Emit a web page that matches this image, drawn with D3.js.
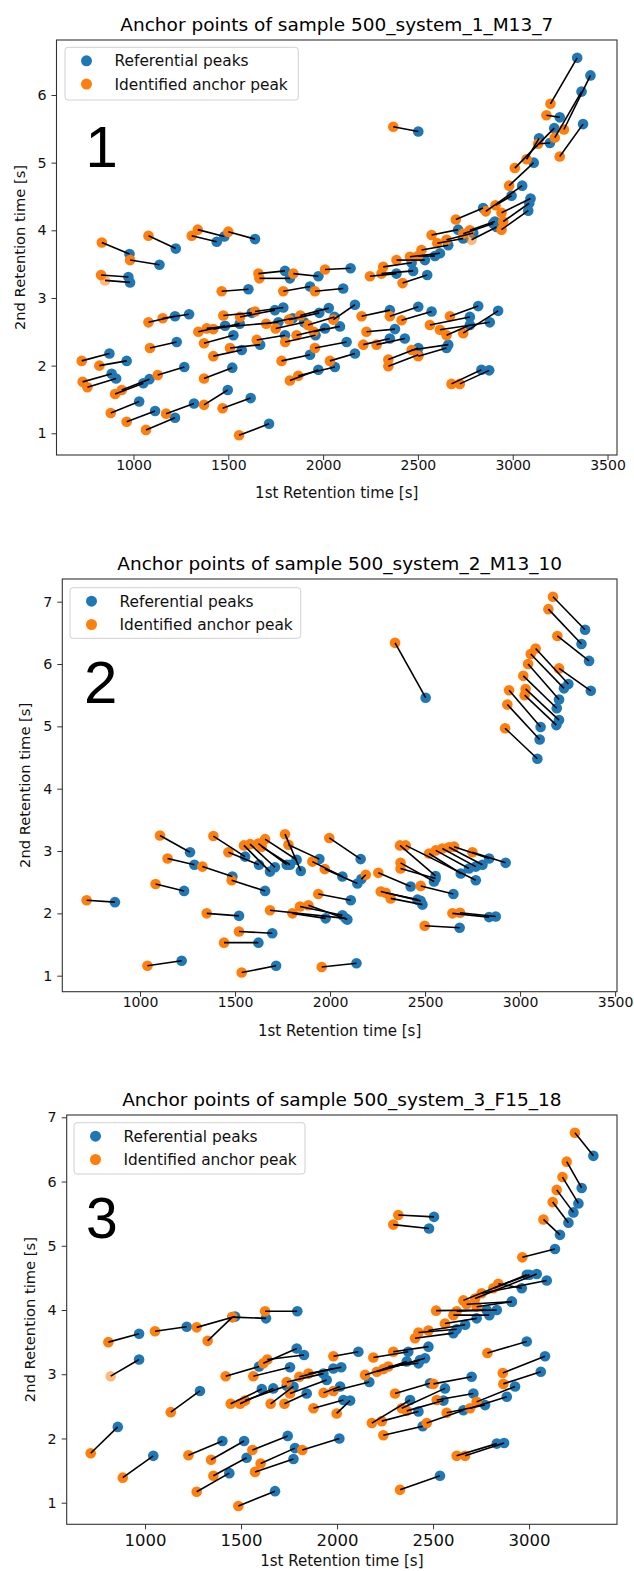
<!DOCTYPE html>
<html>
<head>
<meta charset="utf-8">
<script src="https://cdn.jsdelivr.net/npm/d3@7/dist/d3.min.js"></script>
<style>
  body { margin: 0; background: #fff; }
  svg { display: block; }
</style>
</head>
<body>
<script>
const W = 634, H = 1571;
const blue = "#1f77b4", orange = "#ff7f0e";

const titles = [
  "Anchor points of sample 500_system_1_M13_7",
  "Anchor points of sample 500_system_2_M13_10",
  "Anchor points of sample 500_system_3_F15_18"
];
const tags = ["1", "2", "3"];
const legendLabels = ["Referential peaks", "Identified anchor peak"];
const xLabel = "1st Retention time [s]";
const yLabel = "2nd Retention time [s]";

const xTicks1 = [1000, 1500, 2000, 2500, 3000, 3500];
const xTicks2 = [1000, 1500, 2000, 2500, 3000, 3500];
const xTicks3 = [1000, 1500, 2000, 2500, 3000];
const yTicks1 = [1, 2, 3, 4, 5, 6];
const yTicks2 = [1, 2, 3, 4, 5, 6, 7];
const yTicks3 = [1, 2, 3, 4, 5, 6, 7];

// identified anchor peaks (orange) and the referential peak each one is matched to (blue)
const anchors1 = [[833,3.82],[982,3.56],[1079,3.92],[1339,4.01],[1307,3.92],[1500,3.98],[829,3.34],[850,3.26],
  [1659,3.36],[1664,3.29],[1843,3.36],[2010,3.42],[1465,3.10],[1790,3.10],[1957,3.10],[1079,2.64],[1154,2.70],
  [1474,2.74],[1562,2.72],[1641,2.80],[1342,2.50],[1386,2.55],[1421,2.54],[1087,2.26],[1372,2.33],[1421,2.14],
  [1509,2.26],[1650,2.38],[1781,2.07],[727,2.07],[820,2.00],[732,1.76],[757,1.68],[903,1.58],[938,1.64],
  [1128,1.86],[1372,1.81],[1825,1.78],[1869,1.85],[880,1.30],[964,1.17],[1172,1.29],[1372,1.42],[1470,1.37],
  [1066,1.05],[1557,0.97],[1700,2.62],[1750,2.55],[1820,2.68],[1880,2.74],[1800,2.35],[1920,2.60],[1860,2.45],
  [3199,5.87],[3270,5.49],[3222,5.37],[3178,5.70],[3248,5.09],[3011,4.92],[3073,5.05],[3134,5.28],[2981,4.66],
  [2858,4.28],[2909,4.37],[2941,4.26],[2950,4.13],[2941,4.01],[2700,4.16],[2572,3.93],[2739,3.95],[2783,3.86],
  [2774,4.00],[2602,3.81],[2651,3.86],[2247,3.32],[2308,3.36],[2317,3.46],[2387,3.56],[2458,3.61],[2519,3.71],
  [2419,3.22],[2500,3.62],[2203,2.73],[2352,2.73],[2414,2.67],[2229,2.50],[2212,2.31],[2282,2.31],[2054,2.68],
  [2563,2.60],[2669,2.73],[2616,2.53],[2739,2.48],[2651,2.45],[2467,2.23],[2502,2.14],[2344,2.09],[2344,1.99],
  [2677,1.73],[2721,1.73],[2036,2.07],[1957,2.26],[1950,2.50],[2370,5.53]];
const refs1 = [[979,3.65],[1137,3.49],[1223,3.73],[1479,3.91],[1439,3.83],[1641,3.87],[973,3.31],[982,3.23],
  [1799,3.40],[1825,3.29],[1975,3.32],[2145,3.44],[1606,3.13],[1931,3.17],[2106,3.14],[1219,2.73],[1293,2.76],
  [1624,2.78],[1746,2.82],[1790,2.86],[1483,2.59],[1764,2.64],[1560,2.62],[1228,2.35],[1527,2.45],[1571,2.23],
  [1668,2.31],[1799,2.45],[1931,2.16],[873,2.18],[964,2.07],[885,1.88],[908,1.81],[1052,1.74],[1084,1.80],
  [1268,1.98],[1521,1.97],[1975,1.94],[2062,1.98],[1030,1.47],[1114,1.33],[1319,1.44],[1497,1.64],[1618,1.52],
  [1219,1.23],[1715,1.14],[1840,2.70],[1900,2.64],[1980,2.78],[2030,2.85],[1960,2.45],[2060,2.72],[2010,2.55],
  [3340,6.55],[3410,6.29],[3363,6.05],[3248,5.67],[3371,5.57],[3219,5.51],[3139,5.36],[3196,5.29],[3111,5.00],
  [3050,4.66],[2994,4.51],[3094,4.47],[3087,4.40],[3082,4.29],[2844,4.33],[2712,4.01],[2897,4.10],[2915,4.05],
  [2906,4.13],[2739,3.88],[2792,3.96],[2387,3.36],[2475,3.40],[2467,3.52],[2537,3.56],[2616,3.66],[2660,3.78],
  [2549,3.34],[2590,3.62],[2352,2.82],[2502,2.87],[2572,2.80],[2379,2.54],[2352,2.40],[2431,2.40],[2168,2.90],
  [2774,2.72],[2818,2.88],[2879,2.64],[2923,2.81],[2774,2.60],[2660,2.31],[2651,2.26],[2502,2.26],[2502,2.16],
  [2835,1.94],[2876,1.93],[2168,2.18],[2124,2.35],[2089,2.58],[2502,5.46]];
const faded1 = [7, 70];

const anchors2 = [[719,2.21],[1039,1.16],[1535,1.05],[1351,2.00],[1521,1.71],[1442,1.53],[1105,3.25],[1145,2.88],
  [1082,2.47],[1328,2.75],[1386,3.24],[1465,2.98],[1482,2.53],[1547,3.09],[1579,3.11],[1623,3.12],[1658,3.19],
  [1640,3.07],[1763,3.27],[1781,3.10],[1996,3.21],[1907,2.83],[1972,2.71],[1938,2.31],[1684,2.05],[1802,2.00],
  [1842,2.11],[1886,2.13],[1956,1.14],[2342,6.34],[3173,7.08],[3149,6.88],[3196,6.45],[3205,5.93],[3082,6.25],
  [3056,6.16],[3042,6.00],[3017,5.81],[3029,5.60],[3024,5.50],[2942,5.58],[2933,5.35],[2921,4.97],[2368,3.09],
  [2398,3.09],[2371,2.81],[2371,2.72],[2254,2.65],[2477,2.44],[2267,2.35],[2293,2.33],[2319,2.24],[2644,2.00],
  [2684,2.01],[2498,1.80],[2521,2.96],[2556,3.01],[2591,3.04],[2626,3.06],[2653,3.07],[2749,2.98],[2188,2.62]];
const refs2 = [[868,2.18],[1219,1.24],[1716,1.16],[1521,1.96],[1696,1.68],[1623,1.53],[1263,2.98],[1286,2.78],
  [1232,2.36],[1486,2.59],[1553,2.91],[1626,2.78],[1658,2.36],[1684,2.67],[1710,2.74],[1772,2.78],[1824,2.86],
  [1789,2.78],[1846,2.68],[1944,2.87],[2161,2.87],[2065,2.59],[2144,2.48],[2109,2.21],[2082,1.92],[1977,1.92],
  [2065,1.97],[2091,1.90],[2139,1.20],[2503,5.46],[3342,6.55],[3323,6.32],[3363,6.05],[3372,5.57],[3254,5.68],
  [3231,5.61],[3205,5.43],[3193,5.29],[3205,5.10],[3191,5.02],[3108,4.99],[3103,4.79],[3091,4.48],[2555,2.60],
  [2767,2.53],[2547,2.51],[2555,2.56],[2424,2.43],[2649,2.31],[2477,2.20],[2460,2.22],[2486,2.14],[2837,1.94],
  [2872,1.95],[2682,1.77],[2688,2.64],[2731,2.72],[2767,2.75],[2802,2.78],[2837,2.88],[2924,2.81],[2165,2.55]];
const faded2 = [];

const anchors3 = [[717,1.77],[884,1.39],[809,3.50],[821,2.97],[1052,3.67],[1269,3.73],[1326,3.52],[1455,3.89],
  [1625,3.98],[1134,2.41],[1226,1.74],[1344,1.67],[1356,1.42],[1269,1.17],[1486,0.95],[1559,1.82],[1602,1.61],
  [1573,1.48],[1819,1.82],[1420,2.97],[1564,2.97],[1616,3.17],[1637,3.23],[1446,2.54],[1495,2.54],[1521,2.59],
  [1654,2.54],[1726,2.54],[1738,2.88],[1755,2.70],[1804,2.96],[1877,2.47],[1930,2.71],[1981,3.28],[1851,3.01],
  [3239,6.76],[3196,6.31],[3174,6.07],[3144,5.87],[3123,5.68],[3075,5.41],[2965,4.82],[2319,5.48],[2293,5.33],
  [2328,1.20],[2623,1.73],[2667,1.73],[2783,3.33],[2863,3.02],[2866,2.85],[1981,2.74],[1998,2.39],[2181,2.24],
  [2241,2.05],[2233,2.27],[2302,2.70],[2337,2.47],[2363,2.43],[2502,2.85],[2467,2.24],[2571,2.40],[2519,2.60],
  [2693,2.47],[2727,2.57],[2516,3.99],[2406,3.56],[2424,3.65],[2476,3.68],[2562,3.79],[2606,3.92],[2658,4.15],
  [2675,4.09],[2719,4.18],[2753,4.26],[2814,4.34],[2840,4.41],[2623,3.98],[2727,4.05],[2189,3.26],[2293,3.35],
  [2146,2.99],[2207,3.04],[2241,3.08],[2267,3.12]];
const refs3 = [[858,2.18],[1043,1.73],[969,3.63],[969,3.23],[1217,3.74],[1469,3.90],[1455,3.89],[1630,3.87],
  [1793,3.98],[1286,2.74],[1403,1.96],[1516,1.96],[1529,1.70],[1439,1.46],[1677,1.18],[1743,2.04],[1781,1.85],
  [1773,1.68],[2012,2.00],[1594,3.12],[1755,3.11],[1790,3.40],[1828,3.30],[1608,2.77],[1668,2.78],[1738,2.82],
  [1773,2.81],[1842,2.70],[1929,3.01],[1946,2.91],[1981,3.09],[2033,2.60],[2016,2.81],[2111,3.35],[2022,3.11],
  [3335,6.40],[3274,5.90],[3257,5.66],[3231,5.52],[3205,5.36],[3161,5.17],[3135,4.95],[2505,5.45],[2479,5.27],
  [2536,1.42],[2832,1.92],[2870,1.93],[2988,3.51],[3083,3.28],[3061,3.04],[2168,2.88],[2068,2.59],[2380,2.60],
  [2446,2.19],[2424,2.42],[2484,2.86],[2562,2.78],[2554,2.59],[2701,2.96],[2658,2.44],[2771,2.52],[2710,2.70],
  [2884,2.65],[2927,2.81],[2779,4.00],[2606,3.64],[2623,3.70],[2667,3.77],[2727,3.87],[2793,3.92],[2988,4.55],
  [2910,4.13],[3040,4.56],[3092,4.46],[3002,4.55],[2962,4.34],[2832,4.00],[2910,4.13],[2371,3.35],[2476,3.43],
  [2363,3.20],[2458,3.25],[2432,3.22],[2424,3.17]];
const faded3 = [3];

// layout of the three stacked axes
const panels = [
  { left: 56.5, right: 617, top: 40, bottom: 455, xDom: [594, 3550], yDom: [0.679, 6.813],
    xTicks: xTicks1, yTicks: yTicks1, anchors: anchors1, refs: refs1, faded: faded1,
    xTickFont: 14, xTickDy: 15, xLabelDy: 43, tag: { x: 85.4, y: 166.7, size: 58 },
    legend: { x: 65, y: 47.3, w: 233.3, h: 52.7 } },
  { left: 62.3, right: 617, top: 579, bottom: 991.7, xDom: [591, 3510], yDom: [0.743, 7.364],
    xTicks: xTicks2, yTicks: yTicks2, anchors: anchors2, refs: refs2, faded: faded2,
    xTickFont: 14, xTickDy: 15, xLabelDy: 44, tag: { x: 84, y: 703.3, size: 60 },
    legend: { x: 70, y: 587.7, w: 230.7, h: 50.6 } },
  { left: 66.7, right: 617, top: 1115, bottom: 1524.3, xDom: [592, 3458], yDom: [0.664, 7.036],
    xTicks: xTicks3, yTicks: yTicks3, anchors: anchors3, refs: refs3, faded: faded3,
    xTickFont: 16.5, xTickDy: 21.5, xLabelDy: 42, tag: { x: 86, y: 1238, size: 57 },
    legend: { x: 74, y: 1122.7, w: 231, h: 51.3 } }
];

const svg = d3.select("body").append("svg")
  .attr("width", W).attr("height", H)
  .style("font-family", "'DejaVu Sans', sans-serif");

svg.append("rect").attr("width", W).attr("height", H).attr("fill", "#fff");

panels.forEach((p, i) => {
  const x = d3.scaleLinear().domain(p.xDom).range([p.left, p.right]);
  const y = d3.scaleLinear().domain(p.yDom).range([p.bottom, p.top]);
  const g = svg.append("g");

  // title
  g.append("text")
    .attr("x", (p.left + p.right) / 2).attr("y", p.top - 9)
    .attr("text-anchor", "middle").attr("font-size", 18.5).attr("fill", "#000")
    .text(titles[i]);

  // axes
  const xAxis = d3.axisBottom(x).tickValues(p.xTicks).tickSize(5).tickPadding(3).tickFormat(d3.format("d"));
  const gx = g.append("g").attr("transform", `translate(0,${p.bottom})`).call(xAxis);
  gx.select(".domain").remove();
  gx.selectAll("line").attr("stroke", "#333").attr("stroke-width", 1);
  gx.selectAll("text").attr("font-size", p.xTickFont).attr("fill", "#111")
    .attr("font-family", "'DejaVu Sans', sans-serif")
    .attr("dy", null).attr("y", p.xTickDy).attr("dominant-baseline", "auto");

  const yAxis = d3.axisLeft(y).tickValues(p.yTicks).tickSize(5).tickPadding(5).tickFormat(d3.format("d"));
  const gy = g.append("g").attr("transform", `translate(${p.left},0)`).call(yAxis);
  gy.select(".domain").remove();
  gy.selectAll("line").attr("stroke", "#333").attr("stroke-width", 1);
  gy.selectAll("text").attr("font-size", 14.3).attr("fill", "#111")
    .attr("font-family", "'DejaVu Sans', sans-serif");

  // axis labels
  g.append("text")
    .attr("x", (p.left + p.right) / 2).attr("y", p.bottom + p.xLabelDy)
    .attr("text-anchor", "middle").attr("font-size", 15).attr("fill", "#111")
    .text(xLabel);
  g.append("text")
    .attr("transform", `translate(${p.left - 32},${(p.top + p.bottom) / 2}) rotate(-90)`)
    .attr("text-anchor", "middle").attr("font-size", 14.7).attr("fill", "#111")
    .text(yLabel);

  // marks: referential peaks, identified anchors, then connecting lines
  const plot = g.append("g");
  plot.selectAll("circle.ref").data(p.refs).enter().append("circle")
    .attr("class", "ref")
    .attr("cx", d => x(d[0])).attr("cy", d => y(d[1])).attr("r", 5.3)
    .attr("fill", blue);
  plot.selectAll("circle.anc").data(p.anchors).enter().append("circle")
    .attr("class", "anc")
    .attr("cx", d => x(d[0])).attr("cy", d => y(d[1])).attr("r", 5.3)
    .attr("fill", orange)
    .attr("fill-opacity", (d, j) => p.faded.includes(j) ? 0.55 : 1);
  plot.selectAll("line.pair").data(p.anchors).enter().append("line")
    .attr("class", "pair")
    .attr("x1", d => x(d[0])).attr("y1", d => y(d[1]))
    .attr("x2", (d, j) => x(p.refs[j][0])).attr("y2", (d, j) => y(p.refs[j][1]))
    .attr("stroke", "#000").attr("stroke-width", 1.6);

  // frame
  g.append("rect")
    .attr("x", p.left).attr("y", p.top)
    .attr("width", p.right - p.left).attr("height", p.bottom - p.top)
    .attr("fill", "none").attr("stroke", "#333").attr("stroke-width", 1.1);

  // legend
  const L = p.legend;
  const lg = g.append("g");
  lg.append("rect")
    .attr("x", L.x).attr("y", L.y).attr("width", L.w).attr("height", L.h)
    .attr("rx", 3).attr("fill", "#fff").attr("fill-opacity", 0.8)
    .attr("stroke", "#d0d0d0").attr("stroke-width", 1);
  [blue, orange].forEach((c, k) => {
    const cy = L.y + 13.5 + k * 23.3;
    lg.append("circle").attr("cx", L.x + 21.5).attr("cy", cy).attr("r", 5.5).attr("fill", c);
    lg.append("text").attr("x", L.x + 49.5).attr("y", cy + 5.5)
      .attr("font-size", 15.4).attr("fill", "#111").text(legendLabels[k]);
  });

  // panel number
  g.append("text")
    .attr("x", p.tag.x).attr("y", p.tag.y)
    .attr("font-family", "'Liberation Sans', Arial, sans-serif")
    .attr("font-size", p.tag.size).attr("fill", "#000")
    .text(tags[i]);
});
</script>
</body>
</html>
